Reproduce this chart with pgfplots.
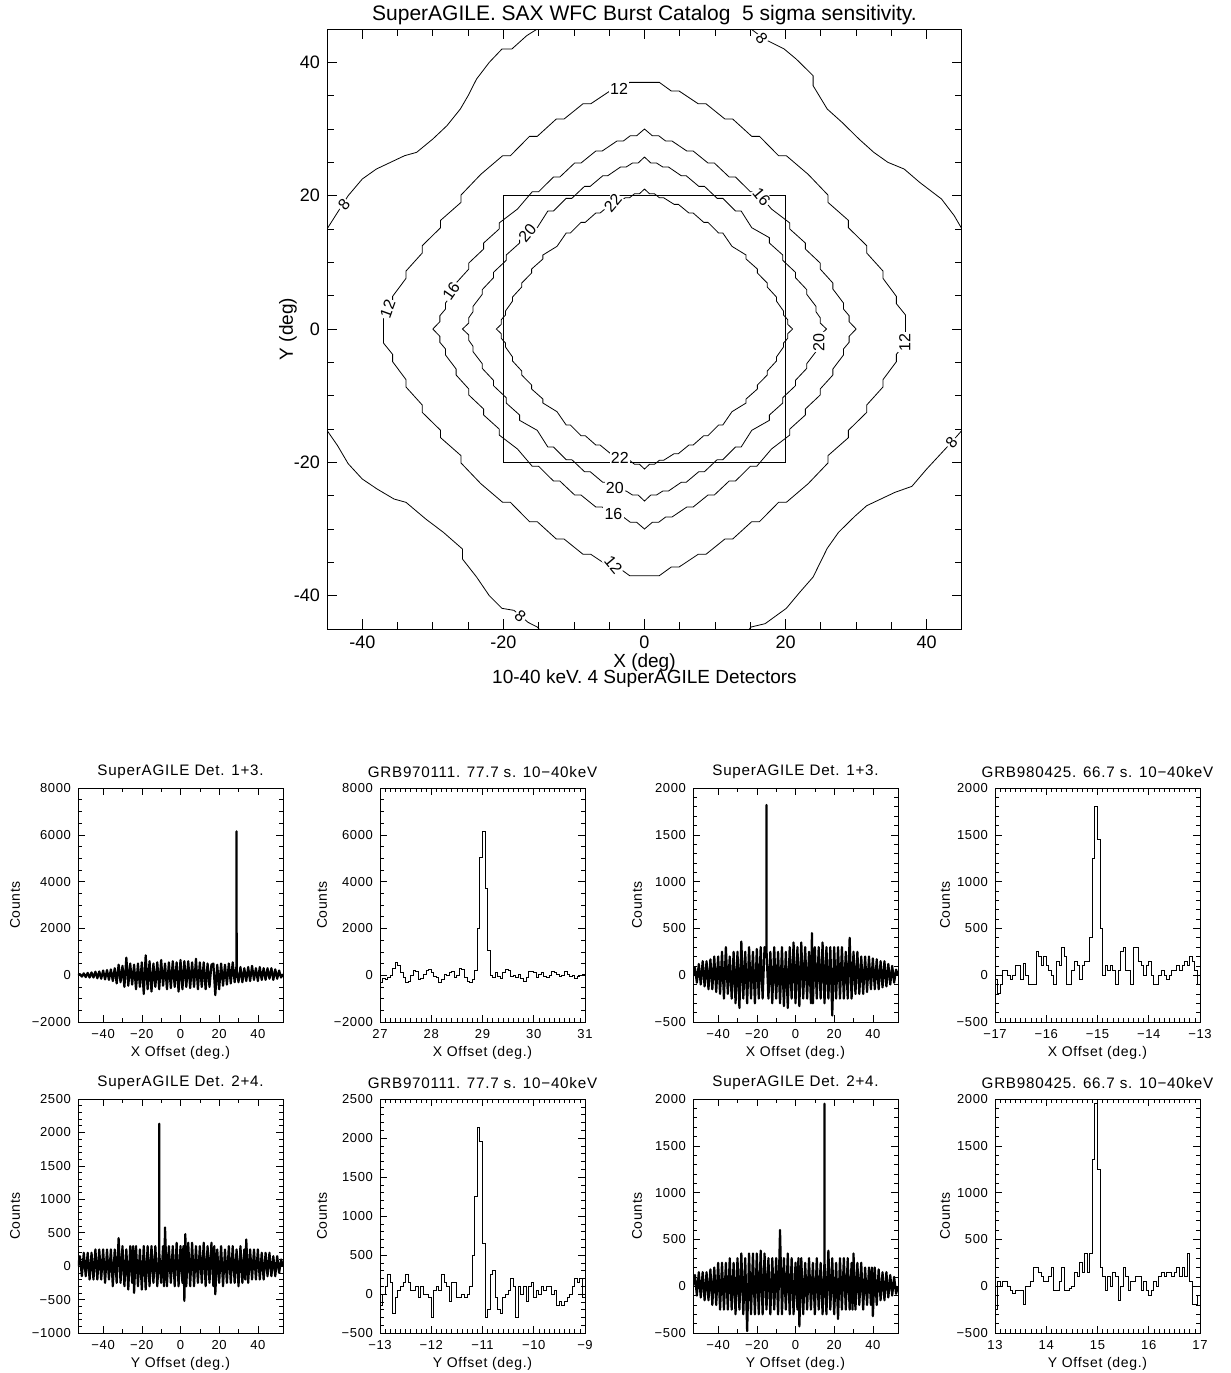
\documentclass[border=0pt]{standalone}
\usepackage{fontspec}
\setmainfont{Liberation Sans}
\newfontfamily\hfont[LetterSpace=5]{Liberation Sans}
\usepackage{pgfplots}
\pgfplotsset{compat=1.18}
\pgfplotsset{
 panel/.style={
   width=102.5pt, height=117pt, scale only axis,
   tick align=inside, tick pos=both,
   major tick length=3.5pt, minor tick length=2pt,
   every tick/.style={black, line width=0.3pt},
   axis line style={line width=0.45pt},
   scaled ticks=false,
   every axis title shift=0pt,
   ticklabel style={font={\hfont\fontsize{6.5}{7}\selectfont}},
   title style={font={\hfont\fontsize{7.6}{8}\selectfont}, at={(axis description cs:0.5,1.068)}, anchor=center},
   xlabel style={font={\hfont\fontsize{7}{7}\selectfont}, at={(axis description cs:0.5,-0.132)}, anchor=center},
   ylabel style={font={\hfont\fontsize{7}{7}\selectfont}, anchor=center},
   ylabel={Counts},
 },
 noise/.style={black, line width=1.1pt, line join=round},
 hist/.style={black, const plot, line width=0.5pt},
}
\tikzset{lab/.style={fill=white, inner sep=0.6pt, font=\fontsize{8}{8}\selectfont}}
\begin{document}
\begin{tikzpicture}
\path[use as bounding box] (0,0) rectangle (615.5pt,-686.5pt);

% ---------------- main contour plot ----------------
\begin{axis}[
  at={(163.5pt,-314.5pt)}, anchor=south west,
  width=317.5pt, height=300pt, scale only axis,
  xmin=-45, xmax=45, ymin=-45, ymax=45,
  xtick={-40,-20,0,20,40}, ytick={-40,-20,0,20,40},
  minor x tick num=3, minor y tick num=3,
  tick align=inside, tick pos=both,
  major tick length=5pt, minor tick length=3.5pt,
  every tick/.style={black, line width=0.4pt},
  axis line style={line width=0.5pt},
  axis on top,
  every axis title shift=0pt,
  /pgf/number format/assume math mode=true,
  ticklabel style={font=\fontsize{9}{9}\selectfont},
  title={SuperAGILE. SAX WFC Burst Catalog\ \ 5 sigma sensitivity.},
  title style={font=\fontsize{10.5}{11}\selectfont, at={(axis description cs:0.5,1.024)}, anchor=center},
  xlabel={X (deg)\\[-3pt]10-40 keV. 4 SuperAGILE Detectors},
  xlabel style={align=center, font=\fontsize{9.5}{11}\selectfont, at={(axis description cs:0.5,-0.0695)}, anchor=center},
  ylabel={Y (deg)},
  ylabel style={font=\fontsize{9.5}{9.5}\selectfont, at={(axis description cs:-0.0614,0.5)}, anchor=center},
]
% contour 22
\addplot[black, line width=0.4pt] coordinates {
(0,21) (0.7,20.3) (1.4,20.3) (2.1,19.7) (2.7,19.7) (4.2,18.7) (4.8,18.7) (6.3,17.4) (6.9,17.4) (8.4,16.0) (9.0,16.0) (10.5,14.4) (11.1,14.4) (12.4,12.4) (14.4,11.1) (14.4,10.5) (16.0,9.0) (16.0,8.4) (17.4,6.9) (17.4,6.3) (18.7,4.8) (18.7,4.2) (19.7,2.7) (19.7,2.1) (20.3,1.4) (20.3,0.7) (21,0)
(20.3,-0.7) (20.3,-1.4) (19.7,-2.1) (19.7,-2.7) (18.7,-4.2) (18.7,-4.8) (17.4,-6.3) (17.4,-6.9) (16.0,-8.4) (16.0,-9.0) (14.4,-10.5) (14.4,-11.1) (12.4,-12.4) (11.1,-14.4) (10.5,-14.4) (9.0,-16.0) (8.4,-16.0) (6.9,-17.4) (6.3,-17.4) (4.8,-18.7) (4.2,-18.7) (2.7,-19.7) (2.1,-19.7) (1.4,-20.3) (0.7,-20.3) (0,-21)
(-0.7,-20.3) (-1.4,-20.3) (-2.1,-19.7) (-2.7,-19.7) (-4.2,-18.7) (-4.8,-18.7) (-6.3,-17.4) (-6.9,-17.4) (-8.4,-16.0) (-9.0,-16.0) (-10.5,-14.4) (-11.1,-14.4) (-12.4,-12.4) (-14.4,-11.1) (-14.4,-10.5) (-16.0,-9.0) (-16.0,-8.4) (-17.4,-6.9) (-17.4,-6.3) (-18.7,-4.8) (-18.7,-4.2) (-19.7,-2.7) (-19.7,-2.1) (-20.3,-1.4) (-20.3,-0.7) (-21,0)
(-20.3,0.7) (-20.3,1.4) (-19.7,2.1) (-19.7,2.7) (-18.7,4.2) (-18.7,4.8) (-17.4,6.3) (-17.4,6.9) (-16.0,8.4) (-16.0,9.0) (-14.4,10.5) (-14.4,11.1) (-12.4,12.4) (-11.1,14.4) (-10.5,14.4) (-9.0,16.0) (-8.4,16.0) (-6.9,17.4) (-6.3,17.4) (-4.8,18.7) (-4.2,18.7) (-2.7,19.7) (-2.1,19.7) (-1.4,20.3) (-0.7,20.3) (0,21)
};
% contour 20
\addplot[black, line width=0.4pt] coordinates {
(0,25.8) (0.9,24.9) (1.7,24.9) (2.6,24.3) (3.4,24.3) (5.2,23.0) (5.9,23.0) (7.7,21.4) (8.5,21.4) (10.3,19.6) (11.1,19.6) (12.9,17.7) (13.7,17.7) (15.2,15.2) (17.7,13.7) (17.7,12.9) (19.6,11.1) (19.6,10.3) (21.4,8.5) (21.4,7.7) (23.0,5.9) (23.0,5.2) (24.3,3.4) (24.3,2.6) (24.9,1.7) (24.9,0.9) (25.8,0)
(24.9,-0.9) (24.9,-1.7) (24.3,-2.6) (24.3,-3.4) (23.0,-5.2) (23.0,-5.9) (21.4,-7.7) (21.4,-8.5) (19.6,-10.3) (19.6,-11.1) (17.7,-12.9) (17.7,-13.7) (15.2,-15.2) (13.7,-17.7) (12.9,-17.7) (11.1,-19.6) (10.3,-19.6) (8.5,-21.4) (7.7,-21.4) (5.9,-23.0) (5.2,-23.0) (3.4,-24.3) (2.6,-24.3) (1.7,-24.9) (0.9,-24.9) (0,-25.8)
(-0.9,-24.9) (-1.7,-24.9) (-2.6,-24.3) (-3.4,-24.3) (-5.2,-23.0) (-5.9,-23.0) (-7.7,-21.4) (-8.5,-21.4) (-10.3,-19.6) (-11.1,-19.6) (-12.9,-17.7) (-13.7,-17.7) (-15.2,-15.2) (-17.7,-13.7) (-17.7,-12.9) (-19.6,-11.1) (-19.6,-10.3) (-21.4,-8.5) (-21.4,-7.7) (-23.0,-5.9) (-23.0,-5.2) (-24.3,-3.4) (-24.3,-2.6) (-24.9,-1.7) (-24.9,-0.9) (-25.8,0)
(-24.9,0.9) (-24.9,1.7) (-24.3,2.6) (-24.3,3.4) (-23.0,5.2) (-23.0,5.9) (-21.4,7.7) (-21.4,8.5) (-19.6,10.3) (-19.6,11.1) (-17.7,12.9) (-17.7,13.7) (-15.2,15.2) (-13.7,17.7) (-12.9,17.7) (-11.1,19.6) (-10.3,19.6) (-8.5,21.4) (-7.7,21.4) (-5.9,23.0) (-5.2,23.0) (-3.4,24.3) (-2.6,24.3) (-1.7,24.9) (-0.9,24.9) (0,25.8)
};
% contour 16
\addplot[black, line width=0.4pt] coordinates {
(0,30) (1.1,29.0) (2.0,29.0) (3.0,28.2) (3.9,28.2) (6.0,26.7) (6.9,26.7) (9.0,24.9) (9.9,24.9) (12.0,22.8) (12.9,22.8) (15.0,20.6) (15.9,20.6) (18.0,18.0) (20.6,15.9) (20.6,15.0) (22.8,12.9) (22.8,12.0) (24.9,9.9) (24.9,9.0) (26.7,6.9) (26.7,6.0) (28.2,3.9) (28.2,3.0) (29.0,2.0) (29.0,1.1) (30,0)
(29.0,-1.1) (29.0,-2.0) (28.2,-3.0) (28.2,-3.9) (26.7,-6.0) (26.7,-6.9) (24.9,-9.0) (24.9,-9.9) (22.8,-12.0) (22.8,-12.9) (20.6,-15.0) (20.6,-15.9) (18.0,-18.0) (15.9,-20.6) (15.0,-20.6) (12.9,-22.8) (12.0,-22.8) (9.9,-24.9) (9.0,-24.9) (6.9,-26.7) (6.0,-26.7) (3.9,-28.2) (3.0,-28.2) (2.0,-29.0) (1.1,-29.0) (0,-30)
(-1.1,-29.0) (-2.0,-29.0) (-3.0,-28.2) (-3.9,-28.2) (-6.0,-26.7) (-6.9,-26.7) (-9.0,-24.9) (-9.9,-24.9) (-12.0,-22.8) (-12.9,-22.8) (-15.0,-20.6) (-15.9,-20.6) (-18.0,-18.0) (-20.6,-15.9) (-20.6,-15.0) (-22.8,-12.9) (-22.8,-12.0) (-24.9,-9.9) (-24.9,-9.0) (-26.7,-6.9) (-26.7,-6.0) (-28.2,-3.9) (-28.2,-3.0) (-29.0,-2.0) (-29.0,-1.1) (-30,0)
(-29.0,1.1) (-29.0,2.0) (-28.2,3.0) (-28.2,3.9) (-26.7,6.0) (-26.7,6.9) (-24.9,9.0) (-24.9,9.9) (-22.8,12.0) (-22.8,12.9) (-20.6,15.0) (-20.6,15.9) (-18.0,18.0) (-15.9,20.6) (-15.0,20.6) (-12.9,22.8) (-12.0,22.8) (-9.9,24.9) (-9.0,24.9) (-6.9,26.7) (-6.0,26.7) (-3.9,28.2) (-3.0,28.2) (-2.0,29.0) (-1.1,29.0) (0,30)
};
% contour 12
\addplot[black, line width=0.4pt] coordinates {
(0,37) (2.1,37) (3.8,35.7) (4.9,35.7) (7.6,33.8) (8.7,33.8) (11.4,31.5) (12.5,31.5) (15.2,28.9) (16.3,28.9) (19.0,26.0) (20.1,26.0) (23.2,23.2) (26.0,20.1) (26.0,19.0) (28.9,16.3) (28.9,15.2) (31.5,12.5) (31.5,11.4) (33.8,8.7) (33.8,7.6) (35.7,4.9) (35.7,3.8) (37,2.1) (37,0)
(37,-2.1) (35.7,-3.8) (35.7,-4.9) (33.8,-7.6) (33.8,-8.7) (31.5,-11.4) (31.5,-12.5) (28.9,-15.2) (28.9,-16.3) (26.0,-19.0) (26.0,-20.1) (23.2,-23.2) (20.1,-26.0) (19.0,-26.0) (16.3,-28.9) (15.2,-28.9) (12.5,-31.5) (11.4,-31.5) (8.7,-33.8) (7.6,-33.8) (4.9,-35.7) (3.8,-35.7) (2.1,-37) (0,-37)
(-2.1,-37) (-3.8,-35.7) (-4.9,-35.7) (-7.6,-33.8) (-8.7,-33.8) (-11.4,-31.5) (-12.5,-31.5) (-15.2,-28.9) (-16.3,-28.9) (-19.0,-26.0) (-20.1,-26.0) (-23.2,-23.2) (-26.0,-20.1) (-26.0,-19.0) (-28.9,-16.3) (-28.9,-15.2) (-31.5,-12.5) (-31.5,-11.4) (-33.8,-8.7) (-33.8,-7.6) (-35.7,-4.9) (-35.7,-3.8) (-37,-2.1) (-37,0)
(-37,2.1) (-35.7,3.8) (-35.7,4.9) (-33.8,7.6) (-33.8,8.7) (-31.5,11.4) (-31.5,12.5) (-28.9,15.2) (-28.9,16.3) (-26.0,19.0) (-26.0,20.1) (-23.2,23.2) (-20.1,26.0) (-19.0,26.0) (-16.3,28.9) (-15.2,28.9) (-12.5,31.5) (-11.4,31.5) (-8.7,33.8) (-7.6,33.8) (-4.9,35.7) (-3.8,35.7) (-2.1,37) (0,37)
};
% contour 8 (four clipped arcs)
\addplot[black, line width=0.4pt] coordinates {
(-45,15) (-43.5,17.5) (-42,20) (-40,22.5) (-38,24) (-36,25) (-34,26) (-32.3,26.5) (-30,28.5) (-28,30.5) (-26.1,33) (-25,35) (-23.8,37.5) (-22,40) (-20.2,42) (-18.8,42) (-16.7,44) (-15.2,45) (-14.5,45.5)
};
\addplot[black, line width=0.4pt] coordinates {
(14.5,45.5) (15.1,45) (17,43.5) (19.8,42) (21.5,40.5) (23.9,38) (23.9,36.5) (25.9,33) (28,31) (30.4,28.5) (32.5,26.5) (34.5,25) (36.8,24) (39,22) (42.1,19.5) (43.9,17) (45,15)
};
\addplot[black, line width=0.4pt] coordinates {
(-45,-15.2) (-43.5,-17.5) (-42,-20.2) (-40,-22.5) (-37.9,-24) (-35.5,-25.5) (-33.8,-26) (-31,-28.5) (-28.5,-30.5) (-25.8,-33) (-25.8,-34.5) (-23.8,-37.2) (-22,-40) (-20.2,-41.9) (-18.5,-42.2) (-16.5,-44) (-15.2,-44.7) (-14.5,-45.5)
};
\addplot[black, line width=0.4pt] coordinates {
(14.5,-45.5) (15.1,-44.7) (17.1,-44.2) (20.1,-41.9) (22,-39.5) (23.9,-37.2) (25.9,-32.9) (27.5,-30.5) (29.8,-28.1) (31.5,-26.5) (33.3,-25.6) (35.5,-24.5) (37.9,-23.6) (40,-21) (42.1,-18.6) (43.5,-17) (45,-15.2)
};
% field-of-view box
\addplot[black, line width=0.5pt] coordinates {(-20,-20) (20,-20) (20,20) (-20,20) (-20,-20)};
% contour labels
\node[lab, rotate=-50] at (axis cs:16.6,43.6) {8};
\node[lab] at (axis cs:-3.6,36.0) {12};
\node[lab, rotate=50] at (axis cs:-42.6,18.6) {8};
\node[lab, rotate=-50] at (axis cs:16.6,19.8) {16};
\node[lab, rotate=50] at (axis cs:-4.5,18.9) {22};
\node[lab, rotate=50] at (axis cs:-16.6,14.4) {20};
\node[lab, rotate=55] at (axis cs:-27.4,5.7) {16};
\node[lab, rotate=70] at (axis cs:-36.4,3.0) {12};
\node[lab, rotate=90] at (axis cs:24.7,-2.0) {20};
\node[lab, rotate=90] at (axis cs:36.9,-2.0) {12};
\node[lab, rotate=50] at (axis cs:43.5,-17.0) {8};
\node[lab] at (axis cs:-3.5,-19.3) {22};
\node[lab] at (axis cs:-4.2,-23.8) {20};
\node[lab] at (axis cs:-4.4,-27.8) {16};
\node[lab, rotate=-50] at (axis cs:-4.4,-35.4) {12};
\node[lab, rotate=-40] at (axis cs:-17.6,-43.1) {8};
\end{axis}

% ---------------- panel 1 ----------------
\begin{axis}[panel, at={(39pt,-511pt)}, anchor=south west,
  xmin=-53, xmax=53, ymin=-2000, ymax=8000,
  xtick={-40,-20,0,20,40}, xticklabels={−40,−20,0,20,40}, minor x tick num=1,
  ytick={-2000,0,2000,4000,6000,8000}, yticklabels={−2000,0,2000,4000,6000,8000}, minor y tick num=3,
  title={SuperAGILE Det. 1+3.}, xlabel={X Offset (deg.)},
  ylabel style={at={(axis description cs:-0.307,0.5)}}]
\addplot[noise] coordinates {
(-53,0)(-52,50)(-51,-60)(-50,80)(-49,-80)(-48,100)(-47,-100)(-46,120)(-45,-100)(-44,150)(-43,-130)(-42,160)(-41,-150)(-40,200)(-39,-180)(-38,220)(-37,-200)(-36,250)(-35,-250)(-34,300)(-33,-350)(-32,450)(-31,-300)(-30,400)(-29,-500)(-28,750)(-27,-450)(-26,500)(-25,-400)(-24,450)(-23,-600)(-22,500)(-21,-500)(-20,550)(-19,-800)(-18,850)(-17,-600)(-16,600)(-15,-700)(-14,500)(-13,-500)(-12,550)(-11,-600)(-10,650)(-9,-450)(-8,500)(-7,-600)(-6,550)(-5,-550)(-4,600)(-3,-500)(-2,550)(-1,-700)(0,650)(1,-600)(2,600)(3,-500)(4,600)(5,-550)(6,550)(7,-500)(8,700)(9,-600)(10,550)(11,-500)(12,550)(13,-600)(14,500)(15,-500)(16,450)(17,500)(18,-850)(19,450)(20,-600)(21,500)(22,-450)(23,450)(24,-400)(25,500)(26,-350)(27,550)(28,-300)(28.95,400)(29,6150)(29.05,200)(30,-300)(31,350)(32,-300)(33,300)(34,-250)(35,350)(36,-250)(37,400)(38,-200)(39,300)(40,-250)(41,350)(42,-200)(43,300)(44,-200)(45,300)(46,-150)(47,300)(48,-200)(49,250)(50,-150)(51,200)(52,-100)(53,50)
};
\end{axis}

% ---------------- panel 2 ----------------
\begin{axis}[panel, at={(190pt,-511pt)}, anchor=south west,
  xmin=27, xmax=31, ymin=-2000, ymax=8000,
  xtick={27,28,29,30,31}, xticklabels={27,28,29,30,31}, minor x tick num=9,
  ytick={-2000,0,2000,4000,6000,8000}, yticklabels={−2000,0,2000,4000,6000,8000}, minor y tick num=3,
  title={GRB970111. 77.7 s. 10−40keV}, xlabel={X Offset (deg.)},
  ylabel style={at={(axis description cs:-0.283,0.5)}}]
\addplot[hist] coordinates {
(27.00,-300)(27.05,-150)(27.10,-200)(27.15,-100)(27.20,0)(27.25,300)(27.30,550)(27.35,400)(27.40,100)(27.45,-100)(27.50,-300)(27.55,-250)(27.60,0)(27.65,200)(27.70,150)(27.75,-200)(27.80,-150)(27.85,50)(27.90,200)(27.95,250)(28.00,100)(28.05,-50)(28.10,-100)(28.15,-300)(28.20,-200)(28.25,50)(28.30,0)(28.35,100)(28.40,150)(28.45,-100)(28.50,0)(28.55,300)(28.60,250)(28.65,-100)(28.70,-250)(28.75,-300)(28.80,-200)(28.85,200)(28.90,2000)(28.95,5050)(29.00,6150)(29.05,3700)(29.10,1050)(29.15,0)(29.20,-100)(29.25,100)(29.30,-50)(29.35,-150)(29.40,100)(29.45,250)(29.50,200)(29.55,-50)(29.60,0)(29.65,-100)(29.70,50)(29.75,-150)(29.80,-250)(29.85,-100)(29.90,150)(29.95,150)(30.00,100)(30.05,-100)(30.10,50)(30.15,100)(30.20,-50)(30.25,-100)(30.30,0)(30.35,150)(30.40,100)(30.45,50)(30.50,-50)(30.55,0)(30.60,150)(30.65,50)(30.70,-50)(30.75,0)(30.80,-150)(30.85,-50)(30.90,0)(30.95,50)(31.00,50)
};
\end{axis}

% ---------------- panel 3 ----------------
\begin{axis}[panel, at={(346.5pt,-511pt)}, anchor=south west,
  xmin=-53, xmax=53, ymin=-500, ymax=2000,
  xtick={-40,-20,0,20,40}, xticklabels={−40,−20,0,20,40}, minor x tick num=1,
  ytick={-500,0,500,1000,1500,2000}, yticklabels={−500,0,500,1000,1500,2000}, minor y tick num=4,
  title={SuperAGILE Det. 1+3.}, xlabel={X Offset (deg.)},
  ylabel style={at={(axis description cs:-0.273,0.5)}}]
\addplot[noise] coordinates {
(-53,0)(-52,80)(-51,-80)(-50,120)(-49,-100)(-48,150)(-47,-120)(-46,150)(-45,-150)(-44,170)(-43,-150)(-42,200)(-41,-180)(-40,200)(-39,-200)(-38,250)(-37,-250)(-36,300)(-35,-200)(-34,200)(-33,-250)(-32,250)(-31,-300)(-30,250)(-29,-350)(-28,360)(-27,-250)(-26,250)(-25,-300)(-24,300)(-23,-250)(-22,250)(-21,-300)(-20,280)(-19,-250)(-18,300)(-17,-250)(-16,300)(-15.05,250)(-15,1820)(-14.95,250)(-14,-250)(-13,250)(-12,-300)(-11,300)(-10,-250)(-9,250)(-8,-300)(-7,300)(-6,-330)(-5,250)(-4,-350)(-3,300)(-2,-250)(-1,350)(0,-300)(1,300)(2,-330)(3,350)(4,-250)(5,300)(6,-250)(7,250)(8,-300)(8.5,450)(9,-300)(10,300)(11,-250)(12,300)(13,-250)(14,350)(15,-300)(16,300)(17,-250)(18,300)(19,-430)(20,300)(21,-250)(22,300)(23,-250)(24,300)(25,-250)(26,250)(27,-250)(28,400)(29,-250)(30,250)(31,-200)(32,250)(33,-200)(34,200)(35,-200)(36,200)(37,-180)(38,200)(39,-150)(40,180)(41,-150)(42,170)(43,-150)(44,150)(45,-130)(46,150)(47,-120)(48,120)(49,-100)(50,100)(51,-80)(52,60)(53,0)
};
\end{axis}

% ---------------- panel 4 ----------------
\begin{axis}[panel, at={(497.5pt,-511pt)}, anchor=south west,
  xmin=-17, xmax=-13, ymin=-500, ymax=2000,
  xtick={-17,-16,-15,-14,-13}, xticklabels={−17,−16,−15,−14,−13}, minor x tick num=9,
  ytick={-500,0,500,1000,1500,2000}, yticklabels={−500,0,500,1000,1500,2000}, minor y tick num=4,
  title={GRB980425. 66.7 s. 10−40keV}, xlabel={X Offset (deg.)},
  ylabel style={at={(axis description cs:-0.244,0.5)}}]
\addplot[hist] coordinates {
(-17.00,-50)(-16.95,-200)(-16.90,-100)(-16.85,50)(-16.80,50)(-16.75,0)(-16.70,-50)(-16.65,0)(-16.60,100)(-16.55,100)(-16.50,-50)(-16.45,130)(-16.40,0)(-16.35,-100)(-16.30,-100)(-16.25,-100)(-16.20,250)(-16.15,200)(-16.10,100)(-16.05,200)(-16.00,100)(-15.95,50)(-15.90,0)(-15.85,-100)(-15.80,150)(-15.75,100)(-15.70,300)(-15.65,200)(-15.60,-100)(-15.55,-100)(-15.50,50)(-15.45,150)(-15.40,100)(-15.35,-50)(-15.30,100)(-15.25,150)(-15.20,150)(-15.15,400)(-15.10,1250)(-15.05,1800)(-15.00,1450)(-14.95,500)(-14.90,0)(-14.85,100)(-14.80,50)(-14.75,100)(-14.70,50)(-14.65,-100)(-14.60,50)(-14.55,250)(-14.50,300)(-14.45,50)(-14.40,50)(-14.35,-100)(-14.30,300)(-14.25,300)(-14.20,150)(-14.15,100)(-14.10,0)(-14.05,100)(-14.00,150)(-13.95,0)(-13.90,-100)(-13.85,-100)(-13.80,0)(-13.75,50)(-13.70,0)(-13.65,-50)(-13.60,0)(-13.55,50)(-13.50,50)(-13.45,100)(-13.40,50)(-13.35,100)(-13.30,150)(-13.25,100)(-13.20,200)(-13.15,150)(-13.10,50)(-13.05,-100)(-13.00,-100)
};
\end{axis}

% ---------------- panel 5 ----------------
\begin{axis}[panel, at={(39pt,-666.5pt)}, anchor=south west,
  xmin=-53, xmax=53, ymin=-1000, ymax=2500,
  xtick={-40,-20,0,20,40}, xticklabels={−40,−20,0,20,40}, minor x tick num=1,
  ytick={-1000,-500,0,500,1000,1500,2000,2500}, yticklabels={−1000,−500,0,500,1000,1500,2000,2500}, minor y tick num=4,
  title={SuperAGILE Det. 2+4.}, xlabel={Y Offset (deg.)},
  ylabel style={at={(axis description cs:-0.307,0.5)}}]
\addplot[noise] coordinates {
(-53,0)(-52,150)(-51,-150)(-50,200)(-49,-150)(-48,200)(-47,-200)(-46,200)(-45,-200)(-44,250)(-43,-200)(-42,250)(-41,-200)(-40,250)(-39,-250)(-38,250)(-37,-200)(-36,250)(-35,-300)(-34,250)(-33,-250)(-32,420)(-31,-250)(-30,300)(-29,-300)(-28,250)(-27,-350)(-26,300)(-25,-250)(-24.5,300)(-24,-400)(-23,300)(-22,-300)(-21,250)(-20,-350)(-19,300)(-18,-350)(-17,300)(-16,-300)(-15,300)(-14,-250)(-13,300)(-12,-300)(-11.05,200)(-11,2130)(-10.95,200)(-10,-250)(-9,300)(-8.5,-300)(-8,580)(-7,-300)(-6,300)(-5,-250)(-4,300)(-3,-300)(-2,350)(-1,-300)(0,300)(1,-250)(1.5,300)(2,-520)(2.5,480)(3,-300)(4,350)(5,-300)(6,350)(7,-300)(8,300)(9,-250)(10,300)(11,-250)(12,350)(13,-300)(14,300)(15,-250)(16,350)(17,-300)(17.5,300)(18,-420)(19,250)(20,-250)(21,300)(22,-300)(23,250)(24,-250)(25,300)(26,-250)(27,300)(28,-250)(29,250)(30,-300)(31,300)(32,-250)(33,250)(33.5,-200)(34,400)(35,-250)(36,250)(37,-200)(38,250)(39,-200)(40,250)(41,-200)(42,200)(43,-200)(44,200)(45,-150)(46,200)(47,-150)(48,150)(49,-150)(50,150)(51,-100)(52,100)(53,0)
};
\end{axis}

% ---------------- panel 6 ----------------
\begin{axis}[panel, at={(190pt,-666.5pt)}, anchor=south west,
  xmin=-13, xmax=-9, ymin=-500, ymax=2500,
  xtick={-13,-12,-11,-10,-9}, xticklabels={−13,−12,−11,−10,−9}, minor x tick num=9,
  ytick={-500,0,500,1000,1500,2000,2500}, yticklabels={−500,0,500,1000,1500,2000,2500}, minor y tick num=4,
  title={GRB970111. 77.7 s. 10−40keV}, xlabel={Y Offset (deg.)},
  ylabel style={at={(axis description cs:-0.283,0.5)}}]
\addplot[hist] coordinates {
(-13.00,-150)(-12.95,0)(-12.90,100)(-12.85,250)(-12.80,150)(-12.75,-250)(-12.70,-50)(-12.65,50)(-12.60,100)(-12.55,150)(-12.50,250)(-12.45,150)(-12.40,50)(-12.35,50)(-12.30,100)(-12.25,-50)(-12.20,100)(-12.15,0)(-12.10,0)(-12.05,-50)(-12.00,-300)(-11.95,50)(-11.90,100)(-11.85,50)(-11.80,250)(-11.75,150)(-11.70,100)(-11.65,-100)(-11.60,150)(-11.55,150)(-11.50,-50)(-11.45,-50)(-11.40,0)(-11.35,-50)(-11.30,0)(-11.25,100)(-11.20,500)(-11.15,1250)(-11.10,2130)(-11.05,1950)(-11.00,650)(-10.95,-300)(-10.90,-200)(-10.85,250)(-10.80,300)(-10.75,-50)(-10.70,-200)(-10.65,-250)(-10.60,-50)(-10.55,0)(-10.50,50)(-10.45,200)(-10.40,100)(-10.35,-300)(-10.30,100)(-10.25,0)(-10.20,100)(-10.15,-100)(-10.10,100)(-10.05,150)(-10.00,-50)(-9.95,50)(-9.90,0)(-9.85,100)(-9.80,50)(-9.75,100)(-9.70,100)(-9.65,0)(-9.60,50)(-9.55,-150)(-9.50,-100)(-9.45,-150)(-9.40,-100)(-9.35,-50)(-9.30,0)(-9.25,100)(-9.20,200)(-9.15,150)(-9.10,200)(-9.05,-50)(-9.00,-50)
};
\end{axis}

% ---------------- panel 7 ----------------
\begin{axis}[panel, at={(346.5pt,-666.5pt)}, anchor=south west,
  xmin=-53, xmax=53, ymin=-500, ymax=2000,
  xtick={-40,-20,0,20,40}, xticklabels={−40,−20,0,20,40}, minor x tick num=1,
  ytick={-500,0,500,1000,1500,2000}, yticklabels={−500,0,500,1000,1500,2000}, minor y tick num=4,
  title={SuperAGILE Det. 2+4.}, xlabel={Y Offset (deg.)},
  ylabel style={at={(axis description cs:-0.273,0.5)}}]
\addplot[noise] coordinates {
(-53,0)(-52,120)(-51,-100)(-50,150)(-49,-120)(-48,150)(-47,-150)(-46,150)(-45,-150)(-44,180)(-43,-200)(-42,200)(-41,-200)(-40,250)(-39,-250)(-38,250)(-37,-250)(-36,250)(-35,-250)(-34,300)(-33,-250)(-32,250)(-31,-300)(-30,300)(-29,-250)(-28,350)(-27,-300)(-26,300)(-25,-480)(-24,350)(-23,-300)(-22,350)(-21,-300)(-20,350)(-19,-300)(-18,380)(-17,-300)(-16,350)(-15,-250)(-14,300)(-13,-300)(-12,300)(-11,-250)(-10,300)(-9,-300)(-8,600)(-7,-300)(-6,300)(-5,-250)(-4,350)(-3,-300)(-2,300)(-1,-300)(0,250)(1,-250)(1.5,300)(2,-430)(3,300)(4,-300)(5,250)(6,-250)(7,300)(8,-250)(9,250)(10,-300)(11,300)(12,-250)(13,250)(14,-300)(14.95,250)(15,1950)(15.05,250)(16,-300)(17,380)(18,-250)(19,300)(20,-300)(21,250)(22,-350)(23,300)(24,-250)(25,300)(26,-250)(27,300)(28,-250)(29,250)(29.5,-250)(30,350)(31,-250)(32,250)(33,-200)(34,250)(35,-250)(36,200)(37,-200)(38,200)(39,-200)(39.5,200)(40,-320)(41,200)(42,-200)(43,180)(44,-150)(45,150)(46,-150)(47,150)(48,-120)(49,120)(50,-100)(51,100)(52,-80)(53,0)
};
\end{axis}

% ---------------- panel 8 ----------------
\begin{axis}[panel, at={(497.5pt,-666.5pt)}, anchor=south west,
  xmin=13, xmax=17, ymin=-500, ymax=2000,
  xtick={13,14,15,16,17}, xticklabels={13,14,15,16,17}, minor x tick num=9,
  ytick={-500,0,500,1000,1500,2000}, yticklabels={−500,0,500,1000,1500,2000}, minor y tick num=4,
  title={GRB980425. 66.7 s. 10−40keV}, xlabel={Y Offset (deg.)},
  ylabel style={at={(axis description cs:-0.244,0.5)}}]
\addplot[hist] coordinates {
(13.00,-250)(13.05,50)(13.10,0)(13.15,50)(13.20,50)(13.25,0)(13.30,-50)(13.35,-80)(13.40,-50)(13.45,-50)(13.50,-50)(13.55,-200)(13.60,0)(13.65,0)(13.70,50)(13.75,200)(13.80,200)(13.85,150)(13.90,100)(13.95,50)(14.00,50)(14.05,100)(14.10,200)(14.15,-50)(14.20,-50)(14.25,50)(14.30,200)(14.35,-50)(14.40,-50)(14.45,-20)(14.50,0)(14.55,150)(14.60,100)(14.65,250)(14.70,150)(14.75,350)(14.80,150)(14.85,350)(14.90,1350)(14.95,1950)(15.00,1250)(15.05,200)(15.10,100)(15.15,-50)(15.20,100)(15.25,0)(15.30,150)(15.35,100)(15.40,-150)(15.45,0)(15.50,200)(15.55,100)(15.60,-50)(15.65,50)(15.70,50)(15.75,100)(15.80,100)(15.85,-50)(15.90,50)(15.95,-50)(16.00,-100)(16.05,-50)(16.10,50)(16.15,0)(16.20,100)(16.25,150)(16.30,100)(16.35,150)(16.40,150)(16.45,100)(16.50,150)(16.55,200)(16.60,100)(16.65,200)(16.70,100)(16.75,350)(16.80,50)(16.85,-200)(16.90,-200)(16.95,-100)(17.00,-100)
};
\end{axis}
\end{tikzpicture}
\end{document}
